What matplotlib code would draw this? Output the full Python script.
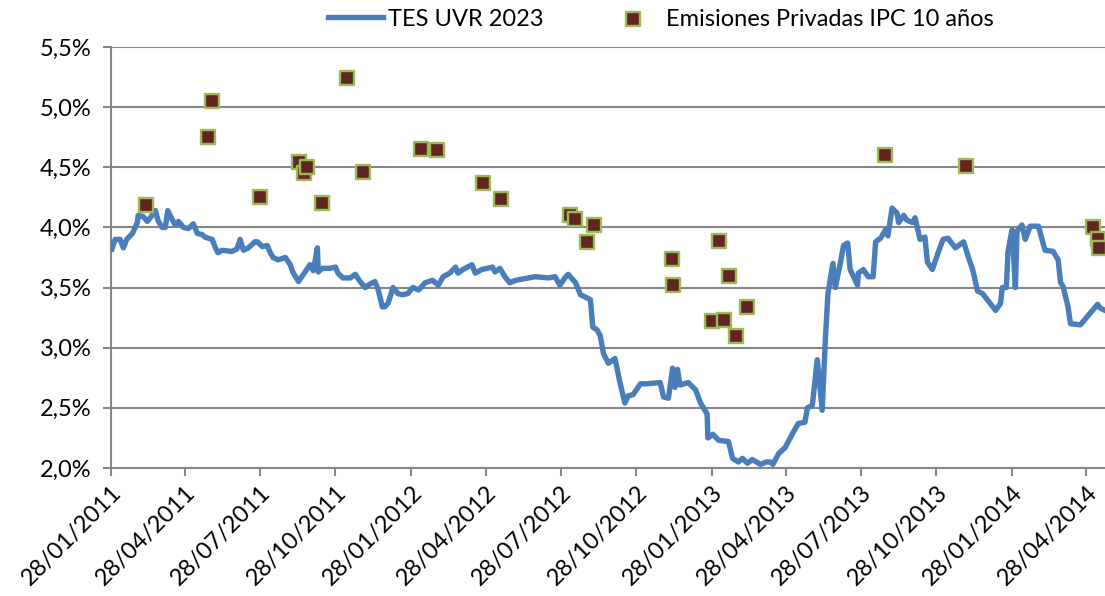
import matplotlib
matplotlib.use("Agg")
import matplotlib.pyplot as plt
import matplotlib.dates as mdates
from matplotlib.ticker import FuncFormatter
import pandas as pd

plt.rcParams['font.family'] = ['Lato', 'DejaVu Sans']

tes_dates = [
    "2011-01-29", "2011-02-02", "2011-02-08", "2011-02-12", "2011-02-16", "2011-02-23",
    "2011-03-01", "2011-03-02", "2011-03-08", "2011-03-13", "2011-03-19", "2011-03-23",
    "2011-03-26", "2011-03-31", "2011-04-04", "2011-04-07", "2011-04-12", "2011-04-16",
    "2011-04-20", "2011-04-26", "2011-05-02", "2011-05-08", "2011-05-13", "2011-05-19",
    "2011-05-22", "2011-05-31", "2011-06-04", "2011-06-07", "2011-06-12", "2011-06-24",
    "2011-06-30", "2011-07-04", "2011-07-08", "2011-07-14", "2011-07-22", "2011-07-25",
    "2011-07-31", "2011-08-06", "2011-08-09", "2011-08-13", "2011-08-19", "2011-08-28",
    "2011-09-03", "2011-09-06", "2011-09-13", "2011-09-19", "2011-09-27", "2011-10-01",
    "2011-10-06", "2011-10-07", "2011-10-12", "2011-10-21", "2011-10-28", "2011-10-31",
    "2011-11-06", "2011-11-15", "2011-11-21", "2011-11-27", "2011-12-03", "2011-12-09",
    "2011-12-15", "2011-12-19", "2011-12-24", "2011-12-27", "2011-12-31", "2012-01-06",
    "2012-01-12", "2012-01-17", "2012-01-24", "2012-01-30", "2012-02-06", "2012-02-14",
    "2012-02-23", "2012-03-01", "2012-03-07", "2012-03-15", "2012-03-22", "2012-03-25",
    "2012-03-31", "2012-04-11", "2012-04-15", "2012-04-23", "2012-05-06", "2012-05-09",
    "2012-05-15", "2012-05-21", "2012-05-27", "2012-06-03", "2012-06-11", "2012-06-27",
    "2012-07-13", "2012-07-21", "2012-07-27", "2012-08-02", "2012-08-06", "2012-08-15",
    "2012-08-21", "2012-09-02", "2012-09-05", "2012-09-10", "2012-09-14", "2012-09-18",
    "2012-09-24", "2012-10-02", "2012-10-08", "2012-10-14", "2012-10-18", "2012-10-24",
    "2012-11-02", "2012-11-10", "2012-11-26", "2012-11-30", "2012-12-06", "2012-12-11",
    "2012-12-14", "2012-12-17", "2012-12-20", "2012-12-30", "2013-01-08", "2013-01-14",
    "2013-01-22", "2013-01-23", "2013-01-29", "2013-02-05", "2013-02-17", "2013-02-22",
    "2013-03-01", "2013-03-06", "2013-03-12", "2013-03-18", "2013-03-28", "2013-04-04",
    "2013-04-09", "2013-04-12", "2013-04-19", "2013-04-27", "2013-05-07", "2013-05-13",
    "2013-05-21", "2013-05-24", "2013-05-30", "2013-06-05", "2013-06-11", "2013-06-15",
    "2013-06-18", "2013-06-24", "2013-06-27", "2013-07-03", "2013-07-07", "2013-07-12",
    "2013-07-15", "2013-07-24", "2013-07-25", "2013-07-31", "2013-08-06", "2013-08-12",
    "2013-08-15", "2013-08-21", "2013-08-27", "2013-08-30", "2013-09-04", "2013-09-10",
    "2013-09-12", "2013-09-18", "2013-09-22", "2013-09-29", "2013-10-02", "2013-10-08",
    "2013-10-14", "2013-10-17", "2013-10-23", "2013-10-30", "2013-11-05", "2013-11-11",
    "2013-11-20", "2013-11-30", "2013-12-06", "2013-12-11", "2013-12-17", "2013-12-23",
    "2014-01-08", "2014-01-14", "2014-01-16", "2014-01-21", "2014-01-23", "2014-01-28",
    "2014-02-01", "2014-02-03", "2014-02-09", "2014-02-13", "2014-02-19", "2014-03-01",
    "2014-03-09", "2014-03-19", "2014-03-25", "2014-03-28", "2014-03-31", "2014-04-06",
    "2014-04-09", "2014-04-21", "2014-05-12", "2014-05-15", "2014-05-21",
]
tes_values = [
    3.82, 3.90, 3.90, 3.83, 3.90, 3.95,
    4.04, 4.10, 4.09, 4.05, 4.10, 4.14,
    4.06, 4.00, 4.00, 4.14, 4.07, 4.02,
    4.05, 4.00, 3.99, 4.03, 3.95, 3.94,
    3.92, 3.90, 3.83, 3.79, 3.81, 3.80,
    3.82, 3.90, 3.81, 3.83, 3.88, 3.88,
    3.84, 3.85, 3.80, 3.75, 3.73, 3.75,
    3.69, 3.63, 3.55, 3.61, 3.69, 3.64,
    3.83, 3.63, 3.66, 3.66, 3.67, 3.62,
    3.58, 3.58, 3.61, 3.55, 3.50, 3.53,
    3.55, 3.48, 3.34, 3.34, 3.37, 3.50,
    3.45, 3.44, 3.45, 3.50, 3.48, 3.54,
    3.56, 3.52, 3.59, 3.62, 3.67, 3.62,
    3.65, 3.69, 3.62, 3.65, 3.67, 3.63,
    3.66, 3.59, 3.54, 3.56, 3.57, 3.59,
    3.58, 3.59, 3.52, 3.58, 3.61, 3.54,
    3.44, 3.40, 3.17, 3.15, 3.10, 2.95,
    2.87, 2.91, 2.71, 2.54, 2.60, 2.61,
    2.70, 2.70, 2.71, 2.59, 2.58, 2.83,
    2.67, 2.82, 2.69, 2.71, 2.65, 2.54,
    2.45, 2.25, 2.28, 2.23, 2.22, 2.08,
    2.05, 2.08, 2.04, 2.07, 2.03, 2.05,
    2.05, 2.03, 2.12, 2.17, 2.30, 2.37,
    2.38, 2.50, 2.52, 2.90, 2.48, 3.09,
    3.45, 3.70, 3.50, 3.70, 3.85, 3.87,
    3.65, 3.52, 3.62, 3.65, 3.59, 3.59,
    3.88, 3.91, 3.98, 3.93, 4.16, 4.12,
    4.04, 4.10, 4.06, 4.04, 4.08, 3.90,
    3.92, 3.71, 3.65, 3.79, 3.90, 3.91,
    3.83, 3.88, 3.75, 3.65, 3.47, 3.45,
    3.31, 3.37, 3.50, 3.50, 3.80, 3.98,
    3.50, 3.97, 4.02, 3.90, 4.01, 4.01,
    3.81, 3.80, 3.73, 3.54, 3.51, 3.34,
    3.20, 3.19, 3.36, 3.33, 3.31,
]

priv_dates = [
    "2011-03-11", "2011-05-26", "2011-05-31", "2011-07-28", "2011-09-14", "2011-09-20",
    "2011-09-23", "2011-10-11", "2011-11-11", "2011-12-01", "2012-02-09", "2012-02-28",
    "2012-04-25", "2012-05-16", "2012-08-08", "2012-08-14", "2012-08-29", "2012-09-06",
    "2012-12-10", "2012-12-12", "2013-01-28", "2013-02-06", "2013-02-11", "2013-02-18",
    "2013-02-26", "2013-03-11", "2013-08-26", "2013-12-03", "2014-05-06", "2014-05-13",
    "2014-05-14",
]
priv_values = [
    4.19, 4.75, 5.05, 4.25, 4.54, 4.45,
    4.50, 4.20, 5.24, 4.46, 4.65, 4.64,
    4.37, 4.24, 4.10, 4.07, 3.88, 4.02,
    3.74, 3.52, 3.22, 3.89, 3.23, 3.60,
    3.10, 3.34, 4.60, 4.51, 4.00, 3.90,
    3.83,
]

tick_dates = [
    "2011-01-28", "2011-04-28", "2011-07-28", "2011-10-28", "2012-01-28", "2012-04-28",
    "2012-07-28", "2012-10-28", "2013-01-28", "2013-04-28", "2013-07-28", "2013-10-28",
    "2014-01-28", "2014-04-28",
]
x_start = "2011-01-28"
x_end = "2014-05-21"

series_names = ["TES UVR 2023", "Emisiones Privadas IPC 10 años"]

fig = plt.figure(figsize=(11.05, 5.96), dpi=100)
ax = fig.add_axes([0.1005, 0.2148, 0.8995, 0.7064])

td = pd.to_datetime(tes_dates)
pdts = pd.to_datetime(priv_dates)
ax.plot(td, tes_values, color="#4A7EBB", lw=3.9, solid_joinstyle="round",
        label=series_names[0], zorder=3)
ax.scatter(pdts, priv_values, marker="s", s=100, facecolor="#632523",
           edgecolor="#9BBB59", linewidths=1.7, label=series_names[1], zorder=4)

ax.set_xlim(pd.Timestamp(x_start), pd.Timestamp(x_end))
ax.set_ylim(2.0, 5.5)
ax.set_yticks([2.0, 2.5, 3.0, 3.5, 4.0, 4.5, 5.0, 5.5])
ax.yaxis.set_major_formatter(FuncFormatter(lambda v, p: f"{v:.1f}%".replace(".", ",")))
ticks = pd.to_datetime(tick_dates)
ax.set_xticks(ticks)
ax.set_xticklabels([t.strftime("%d/%m/%Y") for t in ticks], rotation=45,
                   ha="right", rotation_mode="anchor")

ax.grid(axis="y", color="#868686", lw=1.5)
ax.set_axisbelow(True)
for s in ["top", "right"]:
    ax.spines[s].set_visible(False)
for s in ["left", "bottom"]:
    ax.spines[s].set_color("#868686")
    ax.spines[s].set_linewidth(1.5)
ax.tick_params(axis="both", colors="#868686", labelcolor="black", labelsize=17,
               length=6, width=1.5, direction="out")
ax.tick_params(axis="y", pad=8)
ax.tick_params(axis="x", pad=4)

leg = fig.legend(loc="center", bbox_to_anchor=(0.598, 0.968), ncol=2, frameon=False,
                 fontsize=17, handlelength=2.3, handletextpad=0.25, columnspacing=2.6)

fig.savefig("out.png", dpi=100)
